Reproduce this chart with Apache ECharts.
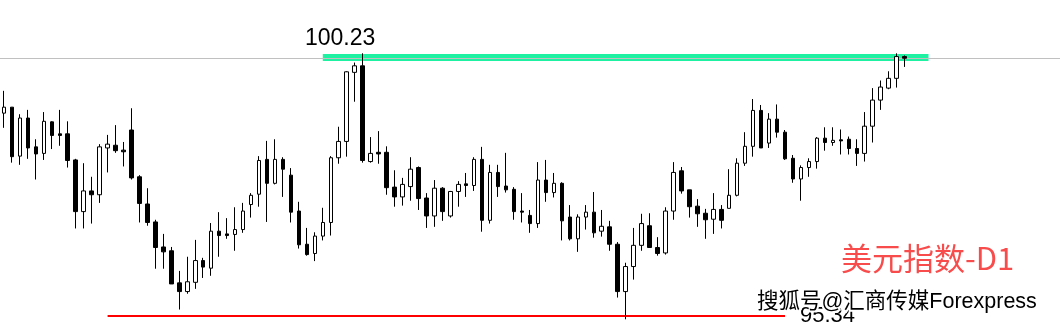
<!DOCTYPE html>
<html><head><meta charset="utf-8">
<script src="https://cdn.jsdelivr.net/npm/echarts@6/dist/echarts.min.js"></script>
<style>html,body{margin:0;padding:0;background:#fff;overflow:hidden}#c{width:1060px;height:326px}</style>
</head><body><div id="c"></div>
<script>
// Daily candles, USD index
const opens = [
99.13,99.24,98.34,99.04,98.51,98.39,98.97,98.75,98.75,98.27,
97.32,97.70,97.63,98.49,98.54,98.45,98.82,97.96,97.46,97.13,
96.67,96.60,96.01,95.85,96.02,96.42,96.28,96.96,96.91,96.90,
96.99,97.45,97.64,98.28,97.84,98.28,97.99,97.33,96.72,96.55,
96.87,97.12,98.31,98.61,99.88,100.00,98.24,98.41,98.41,97.77,
97.59,97.78,98.13,97.57,97.24,97.75,97.24,97.69,97.83,97.80,
98.28,97.16,98.04,97.79,97.73,97.33,97.25,97.10,97.90,97.67,
97.84,97.22,96.82,97.22,97.31,96.96,97.04,96.72,95.85,96.31,
96.70,97.06,96.66,96.56,97.33,98.07,97.72,97.42,97.29,97.18,
97.36,97.38,97.62,98.21,98.52,99.18,98.58,99.02,98.78,98.30,
97.92,98.13,98.24,98.67,98.59,98.64,98.65,98.48,98.39,98.89,
99.37,99.59,99.77,100.17];
const closes = [
99.24,98.33,99.04,98.49,98.38,98.98,98.72,98.72,98.26,97.32,
97.70,97.63,98.51,98.56,98.44,98.42,97.94,97.47,97.12,96.66,
96.58,95.99,95.85,96.03,96.42,96.30,96.96,96.88,96.88,96.99,
97.33,97.62,98.26,97.84,98.28,98.10,97.31,96.71,96.53,96.87,
97.12,98.31,98.61,99.89,100.00,98.26,98.39,98.38,97.76,97.59,
97.82,98.10,97.56,97.24,97.75,97.32,97.69,97.82,97.80,98.28,
97.16,98.04,97.78,97.72,97.32,97.31,97.10,97.90,97.67,97.84,
97.15,96.82,97.22,97.31,96.93,97.05,96.72,95.85,96.31,96.70,
97.10,96.66,96.55,97.33,98.04,97.70,97.41,97.28,97.17,97.36,
97.16,97.62,98.21,98.52,99.18,98.49,99.02,98.78,98.29,97.92,
98.13,98.24,98.67,98.59,98.63,98.62,98.48,98.39,98.89,99.37,
99.61,99.77,100.17,100.14];
const lows = [
98.86,98.22,98.18,98.29,97.91,98.27,98.47,98.53,98.13,97.01,
97.01,97.10,97.48,98.04,98.40,98.15,97.91,97.12,97.06,96.27,
96.27,95.99,95.52,95.81,95.90,96.10,96.14,96.49,96.82,96.60,
96.93,97.21,97.41,97.13,97.82,97.59,97.12,96.64,96.51,96.41,
96.79,96.88,98.20,98.33,99.34,98.22,98.22,98.20,97.63,97.41,
97.43,97.52,97.35,97.02,97.04,97.15,97.21,97.41,97.59,97.70,
96.95,97.10,97.59,97.67,97.17,97.12,96.93,97.02,97.50,97.58,
96.79,96.79,96.58,96.99,96.84,96.86,96.60,95.74,95.34,96.07,
96.60,96.66,96.51,96.53,97.17,97.65,97.21,97.04,96.82,96.91,
97.01,97.38,97.60,98.16,98.33,98.49,98.49,98.68,98.27,97.85,
97.52,97.96,98.11,98.44,98.53,98.37,98.37,98.16,98.24,98.59,
99.19,99.57,99.60,99.98];
const highs = [
99.54,99.24,99.11,99.19,98.65,99.15,98.98,99.19,98.98,98.29,
98.21,97.96,98.56,98.73,98.91,98.60,99.22,97.99,97.75,97.17,
96.91,96.67,96.23,96.49,96.80,96.47,97.11,97.31,97.20,97.40,
97.48,97.66,98.34,98.62,98.65,98.32,98.12,97.50,97.02,96.94,
97.39,98.34,98.88,99.90,100.06,100.23,98.69,98.80,98.52,98.08,
97.94,98.32,98.15,97.66,97.90,97.77,97.70,97.88,98.03,98.32,
98.51,98.18,98.18,98.40,97.77,97.66,97.35,98.23,98.27,98.03,
97.86,97.44,97.27,97.44,97.68,97.35,97.15,96.76,96.38,97.02,
97.28,97.29,96.85,97.40,98.23,98.14,97.72,97.55,97.37,97.66,
97.44,98.10,98.30,98.78,99.39,99.28,99.13,99.29,98.82,98.36,
98.17,98.30,98.69,98.87,98.87,98.83,98.70,98.65,99.15,99.59,
99.73,99.90,100.23,100.19];
const categories = opens.map((_, i) => 'D' + (i + 1));

const highlightLevel = 100.16;   // green highlight band
const supportLevel = 95.41;      // red support line
const bandStart = 40, bandEnd = 116;
const supportStart = 13, supportEnd = 98;
const chartTitle = '美元指数-D1';
const watermarkText = '搜狐号@汇商传媒Forexpress';

const maxHigh = Math.max(...highs);
const minLow = Math.min(...lows);
const lastClose = closes[closes.length - 1];

const padCount = 19;
const axisData = categories.concat(new Array(padCount).fill(''));
const candleData = opens.map((o, i) => [o, closes[i], lows[i], highs[i]]);

const chart = echarts.init(document.getElementById('c'), null, {renderer: 'canvas'});
chart.setOption({
  animation: false,
  backgroundColor: '#ffffff',
  grid: {left: -0.7, top: 0, width: axisData.length * 8, bottom: 0},
  xAxis: {type: 'category', data: axisData, show: false, boundaryGap: true},
  yAxis: {type: 'value', min: 95.217, max: 101.21, show: false, splitLine: {show: false}, scale: true},
  series: [{
    type: 'candlestick',
    data: candleData,
    barWidth: 4,
    z: 3,
    itemStyle: {
      color: '#ffffff', color0: '#000000',
      borderColor: '#000000', borderColor0: '#000000', borderColorDoji: '#000000',
      borderWidth: 1
    },
    markLine: {
      z: 1,
      silent: true,
      symbol: ['none', 'none'],
      label: {show: false},
      emphasis: {disabled: true},
      data: [
        [{coord: [bandStart, highlightLevel], lineStyle: {color: '#1ef2a2', width: 7, type: 'solid'}},
         {coord: [bandEnd, highlightLevel]}],
        [{coord: [supportStart, supportLevel], lineStyle: {color: '#ff0000', width: 2, type: 'solid'}},
         {coord: [supportEnd, supportLevel]}],
        {yAxis: lastClose, lineStyle: {color: '#c0c0c0', width: 1, type: 'solid'}}
      ]
    }
  }],
  graphic: [
    {type: 'text', x: 305, y: 39, z: 10, style: {text: maxHigh.toFixed(2), font: '23px "Liberation Sans"', fill: '#000', textAlign: 'left', textVerticalAlign: 'middle'}},
    {type: 'text', x: 800, y: 316, z: 10, style: {text: minLow.toFixed(2), font: '22px "Liberation Sans"', fill: '#000', textAlign: 'left', textVerticalAlign: 'middle'}},
    {type: 'text', x: 841, y: 258, z: 10, style: {text: chartTitle, font: '31px "Noto Sans CJK SC"', fill: '#f84c4c', textAlign: 'left', textVerticalAlign: 'middle'}},
    {type: 'text', x: 757, y: 302, z: 11, style: {text: watermarkText, font: '21.5px "Liberation Sans", "Noto Sans CJK SC"', fill: '#fff', stroke: '#fff', lineWidth: 4, textAlign: 'left', textVerticalAlign: 'middle'}},
    {type: 'text', x: 757, y: 302, z: 12, style: {text: watermarkText, font: '21.5px "Liberation Sans", "Noto Sans CJK SC"', fill: '#000', textAlign: 'left', textVerticalAlign: 'middle'}}
  ]
});
</script></body></html>
